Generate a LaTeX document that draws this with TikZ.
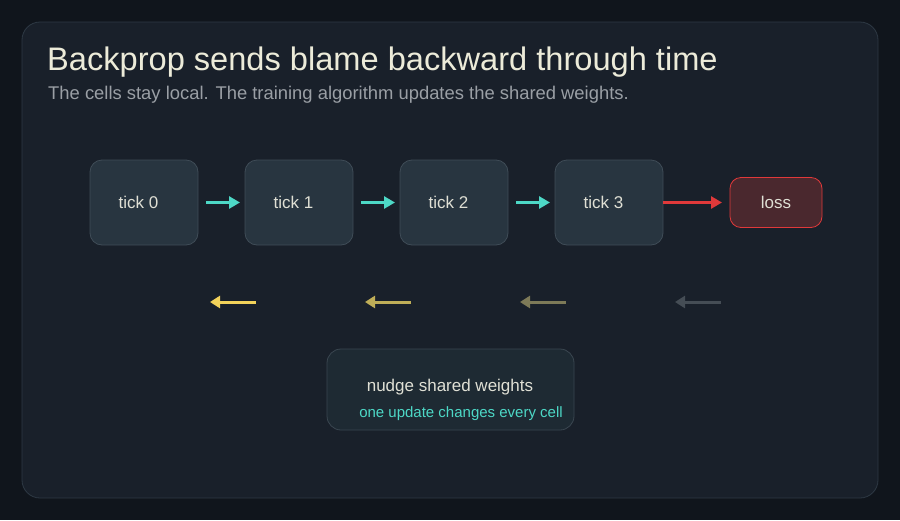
\documentclass[tikz,border=0pt]{standalone}
\usepackage{fontspec}
\setmainfont{Liberation Sans}
\usepackage{xcolor}
\usetikzlibrary{arrows.meta,positioning}
\definecolor{outerbg}{HTML}{10151C}
\definecolor{cardbg}{HTML}{19202A}
\definecolor{cardline}{HTML}{2E3944}
\definecolor{titleink}{HTML}{ECEBD9}
\definecolor{subink}{HTML}{9A9FA5}
\definecolor{tickfill}{HTML}{283540}
\definecolor{tickline}{HTML}{3F4C57}
\definecolor{tickink}{HTML}{E0E0D5}
\definecolor{fwdink}{HTML}{4DD8C6}
\definecolor{lossink}{HTML}{E0393A}
\definecolor{lossfill}{HTML}{4A282E}
\definecolor{blameA}{HTML}{F2D25A}
\definecolor{blameB}{HTML}{BFAE58}
\definecolor{blameC}{HTML}{7D7A58}
\definecolor{blameD}{HTML}{454D55}
\definecolor{weightfill}{HTML}{1E2A33}
\definecolor{weightline}{HTML}{3A4650}
\tikzset{
	tickbox/.style={draw=tickline, fill=tickfill, line width=0.8pt, outer sep=0pt, rounded corners=12pt, minimum width=108pt, minimum height=85pt, text=tickink, font=\fontsize{17}{20}\selectfont},
	lossbox/.style={draw=lossink, fill=lossfill, line width=0.8pt, outer sep=0pt, rounded corners=11pt, minimum width=92pt, minimum height=50pt, text=tickink, font=\fontsize{17}{20}\selectfont},
	weightbox/.style={draw=weightline, fill=weightfill, line width=0.8pt, outer sep=0pt, rounded corners=14pt, minimum width=247pt, minimum height=81pt},
	fwd/.style={draw=fwdink, line width=3pt, -{Triangle[length=11pt,width=12pt]}},
	blame/.style={line width=3pt, -{Triangle[length=10pt,width=12pt]}}
}
\begin{document}
\begin{tikzpicture}[x=1pt,y=-1pt]
		\useasboundingbox (0,0) rectangle (900,520);
		\fill[outerbg] (0,0) rectangle (900,520);
		\draw[cardline, fill=cardbg, line width=0.8pt, rounded corners=18pt] (22,22) rectangle (878,498);
		% heading
		\node[anchor=base west, inner sep=0pt, text=titleink, font=\fontsize{32.6}{38}\selectfont] (title) at (47,70) {Backprop sends blame backward through time};
		\node[anchor=base west, inner sep=0pt, text=subink, font=\fontsize{18.4}{22}\selectfont] (subtitle) at (48,99) {The cells stay local. The training algorithm updates the shared weights.};
		% forward pass
		\node[tickbox] (t0) at (144,202.5) {tick 0\hspace*{11pt}};
		\node[tickbox, right=47pt of t0] (t1) {tick 1\hspace*{11pt}};
		\node[tickbox, right=47pt of t1] (t2) {tick 2\hspace*{11pt}};
		\node[tickbox, right=47pt of t2] (t3) {tick 3\hspace*{11pt}};
		\node[lossbox, right=67pt of t3] (loss) {loss};
		\draw[fwd] ([xshift=8pt]t0.east) -- ([xshift=-5pt]t1.west);
		\draw[fwd] ([xshift=8pt]t1.east) -- ([xshift=-5pt]t2.west);
		\draw[fwd] ([xshift=8pt]t2.east) -- ([xshift=-5pt]t3.west);
		\draw[fwd, draw=lossink] (t3.east) -- ([xshift=-8pt]loss.west);
		% blame going back
		\coordinate (b0s) at (256,302); \coordinate (b0e) at (210,302);
		\coordinate (b1s) at (411,302); \coordinate (b1e) at (365,302);
		\coordinate (b2s) at (566,302); \coordinate (b2e) at (520,302);
		\coordinate (b3s) at (721,302); \coordinate (b3e) at (675,302);
		\draw[blame, draw=blameA] (b0s) -- (b0e);
		\draw[blame, draw=blameB] (b1s) -- (b1e);
		\draw[blame, draw=blameC] (b2s) -- (b2e);
		\draw[blame, draw=blameD] (b3s) -- (b3e);
		% weights
		\node[weightbox] (nudge) at (450.5,389.5) {};
		\node[text=tickink, font=\fontsize{17}{20}\selectfont] (nudgetitle) at (450,387) {nudge shared weights};
		\node[text=fwdink, font=\fontsize{15}{18}\selectfont] (nudgenote) at (461,413.5) {one update changes every cell};
	\end{tikzpicture}
\end{document}
